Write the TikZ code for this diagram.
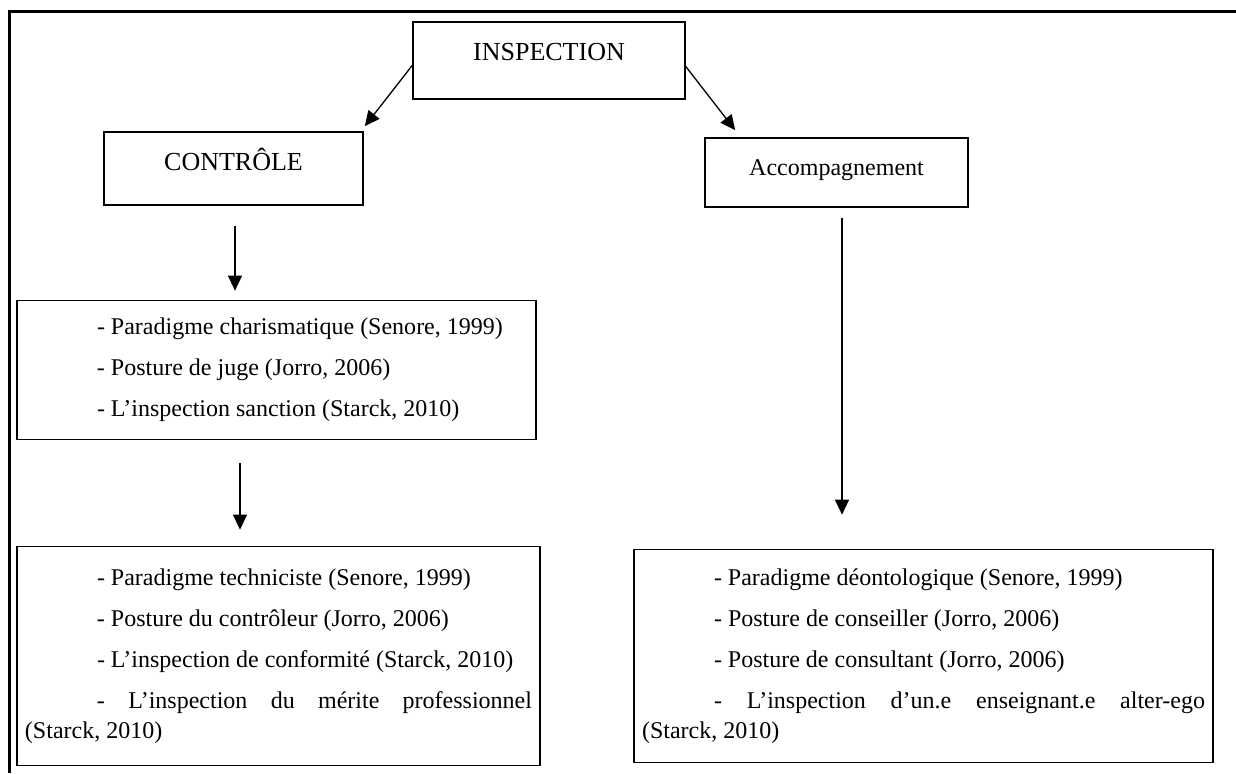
\documentclass[tikz,border=0pt]{standalone}
\usepackage{fontspec}
\setmainfont{Liberation Serif}
\usetikzlibrary{arrows.meta,positioning,calc}

\newcommand{\tiret}{\par\hspace*{36pt}-\ }

\tikzset{
  headbox/.style={
    rectangle, draw=black, line width=0.8pt, inner sep=0pt,
    text height=19pt, text depth=18pt,
    font=\fontsize{13}{15}\selectfont
  },
  listbox/.style={
    rectangle, draw=black, line width=0.8pt, inner xsep=4pt,
    align=justify, font=\fontsize{12}{15}\selectfont,
    execute at begin node={\setlength{\parskip}{5.5pt}},
    execute at end node={\par\vspace*{12pt}}
  },
  arrowline/.style={-{Triangle[length=7.5pt,width=7pt]}, line width=0.65pt},
  framebox/.style={line width=1.5pt}
}

\begin{document}
\begin{tikzpicture}[x=0.5pt, y=-0.5pt]
  \useasboundingbox (0,0) rectangle (1236,773);
  % Outer frame
  \draw[framebox] (1236,11) -- (9,11) -- (9,773);

  % Title boxes
  \node[headbox, minimum width=136pt, text depth=19.5pt] (insp) at (549,60.5) {INSPECTION};
  \node[headbox, minimum width=129.5pt, text depth=17.5pt] (ctrl) at (233.5,168.5) {CONTRÔLE};
  \node[headbox, minimum width=131.5pt, text height=18.5pt, text depth=16pt,
        font=\fontsize{12}{15}\selectfont] (acc) at (836.5,172.5) {Accompagnement};

  % Lists
  \node[listbox, text width=251.5pt, inner ysep=-3.25pt] (ctrlA) at (276.5,370) {%
    \tiret Paradigme charismatique (Senore, 1999)
    \tiret Posture de juge (Jorro, 2006)
    \tiret L’inspection sanction (Starck, 2010)};
  \node[listbox, text width=253.5pt, inner ysep=-1pt] (ctrlB) at (278.5,656) {%
    \tiret Paradigme techniciste (Senore, 1999)
    \tiret Posture du contrôleur (Jorro, 2006)
    \tiret L’inspection de conformité (Starck, 2010)
    \tiret L’inspection du mérite professionnel\linebreak (Starck, 2010)};
  \node[listbox, text width=281.5pt, inner ysep=-2.5pt] (accA) at (923.5,656) {%
    \tiret Paradigme déontologique (Senore, 1999)
    \tiret Posture de conseiller (Jorro, 2006)
    \tiret Posture de consultant (Jorro, 2006)
    \tiret L’inspection d’un.e enseignant.e alter-ego\linebreak (Starck, 2010)};

  % Arrows
  \draw[arrowline] ($(insp.west)+(0,5)$) -- ($(ctrl.north east)+(1,-5)$);
  \draw[arrowline] ($(insp.east)+(0,6)$) -- ($(acc.north west)+(31,-7)$);
  \draw[arrowline] ($(ctrl.south)+(1.5,20)$) -- ($(ctrl.south |- ctrlA.north)+(1.5,-9)$);
  \draw[arrowline] ($(ctrlA.south)+(-36.5,23)$) -- ($(ctrlA.south |- ctrlB.north)+(-36.5,-16)$);
  \draw[arrowline] ($(acc.south)+(5.5,10)$) -- ($(acc.south |- accA.north)+(5.5,-34)$);
\end{tikzpicture}
\end{document}
